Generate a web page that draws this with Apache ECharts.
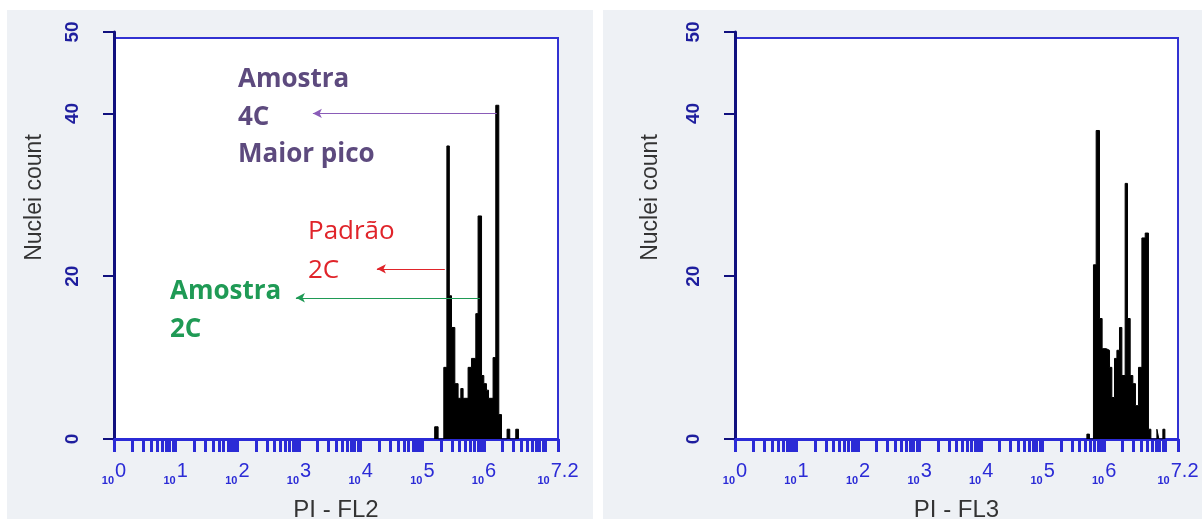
<!DOCTYPE html>
<html>
<head>
<meta charset="utf-8">
<script src="https://cdn.jsdelivr.net/npm/echarts@6/dist/echarts.min.js"></script>
<style>
html,body{margin:0;padding:0;background:#ffffff;}
#chart{width:1202px;height:519px;}
</style>
</head>
<body>
<div id="chart"></div>
<script>
// Histogram bins: edges in log10 fluorescence units, counts per bin
const leftEdges = [5.20, 5.256, 5.348, 5.398, 5.438, 5.473, 5.527, 5.580, 5.624, 5.661, 5.742, 5.797, 5.867, 5.904, 5.960, 5.997, 6.040, 6.073, 6.147, 6.191, 6.240, 6.284, 6.374, 6.418, 6.515, 6.559];
const leftCounts = [1.5, 0, 8.8, 36, 17.6, 13.7, 6.8, 5, 6.2, 5, 8.8, 9.9, 15.4, 27.4, 7.8, 6.8, 6, 5, 10, 41, 3, 0, 1.2, 0, 1.2];

const rightEdges = [5.719, 5.761, 5.826, 5.870, 5.924, 5.967, 6.033, 6.087, 6.125, 6.168, 6.207, 6.249, 6.288, 6.341, 6.379, 6.423, 6.466, 6.509, 6.558, 6.613, 6.667, 6.720, 6.759, 6.857, 6.889, 6.954, 6.987];
const rightCounts = [0.6, 0, 21.4, 37.9, 14.8, 11.1, 10.9, 8.8, 5.1, 9.9, 10.9, 13.7, 7.8, 31.4, 14.8, 7.8, 6.8, 4.1, 8.8, 24.7, 25.3, 1.2, 0, 1.2, 0, 1.2];

const xMajorTicks = [0, 1, 2, 3, 4, 5, 6, 7.2];
const yTicks = [0, 20, 40, 50];
const xTitles = ['PI - FL2', 'PI - FL3'];
const yTitle = 'Nuclei count';

// Annotation arrows (log10 x, count y)
const arrows = [
  {from: [6.207, 40.0], to: [3.225, 40.0], color: '#8a5cb8'},
  {from: [5.365, 20.9], to: [4.263, 20.9], color: '#e0242a'},
  {from: [5.932, 17.35], to: [2.950, 17.35], color: '#1f9a55'}
];
const notes = [
  {lines: ['Amostra', '4C', 'Maior pico'], color: '#5d4a7e', weight: 'bold'},
  {lines: ['Padrão', '2C'], color: '#e0242a', weight: 'normal'},
  {lines: ['Amostra', '2C'], color: '#1f9a55', weight: 'bold'}
];

// minor tick positions (log decades 1..9)
const minorTicks = [];
for (let k = 0; k <= 7; k++) {
  for (let m = 1; m <= 9; m++) {
    const v = k + Math.log10(m);
    if (v <= 7.2001) minorTicks.push(+v.toFixed(4));
  }
}
minorTicks.push(7.2);

function stepData(edges, counts) {
  const d = [[edges[0], 0]];
  for (let i = 0; i < counts.length; i++) d.push([edges[i], counts[i]]);
  d.push([edges[edges.length - 1], 0]);
  return d;
}

const chart = echarts.init(document.getElementById('chart'), null, {renderer: 'canvas'});

const grids = [
  {left: 114, top: 32, width: 444, height: 407, outerBoundsMode: 'none', containLabel: false},
  {left: 735, top: 32, width: 443, height: 407, outerBoundsMode: 'none', containLabel: false}
];
const yNameGap = [68, 73];

function xAxisFor(i) {
  return {
    type: 'value', gridIndex: i, min: 0, max: 7.2,
    name: xTitles[i], nameLocation: 'middle', nameGap: 59,
    nameTextStyle: {fontFamily: 'Liberation Sans', fontSize: 24, color: '#333333'},
    axisLine: {show: true, lineStyle: {color: '#2b2bd6', width: 3}},
    axisTick: {show: true, customValues: minorTicks, length: 13, lineStyle: {color: '#2b2bd6', width: 3}},
    axisLabel: {
      show: true, customValues: xMajorTicks, margin: 22,
      formatter: function (v) { return '{s|10}{e|' + (Math.abs(v - 7.2) < 1e-6 ? '7.2' : String(Math.round(v))) + '}'; },
      rich: {
        s: {fontFamily: 'Liberation Sans', fontSize: 11, lineHeight: 11, fontWeight: 'bold', color: '#2b2bd6', verticalAlign: 'top', padding: [14, 1, 0, 0]},
        e: {fontFamily: 'Liberation Sans', fontSize: 20, lineHeight: 20, color: '#2b2bd6', verticalAlign: 'top'}
      }
    },
    splitLine: {show: false}
  };
}
function yAxisFor(i) {
  return {
    type: 'value', gridIndex: i, min: 0, max: 50,
    name: yTitle, nameLocation: 'middle', nameGap: yNameGap[i], nameRotate: 90,
    nameTextStyle: {fontFamily: 'Liberation Sans', fontSize: 23, color: '#333333', padding: [0, 0, 0, 76]},
    axisLine: {show: true, lineStyle: {color: '#10107e', width: 3}},
    axisTick: {show: true, customValues: yTicks, length: 11, lineStyle: {color: '#10107e', width: 2}},
    axisLabel: {show: true, customValues: yTicks, rotate: 90, margin: 32,
      fontFamily: 'Liberation Sans', fontWeight: 'bold', fontSize: 19, color: '#1e1e9e'},
    splitLine: {show: false}
  };
}

const graphics = [
  {type: 'rect', z: -20, shape: {x: 7, y: 10, width: 586, height: 509}, style: {fill: '#eef1f5'}},
  {type: 'rect', z: -20, shape: {x: 603, y: 10, width: 599, height: 509}, style: {fill: '#eef1f5'}},
  {type: 'rect', z: -10, shape: {x: 114, y: 38, width: 444, height: 401}, style: {fill: '#ffffff', stroke: '#3232d2', lineWidth: 2}},
  {type: 'rect', z: -10, shape: {x: 735, y: 38, width: 443, height: 401}, style: {fill: '#ffffff', stroke: '#3232d2', lineWidth: 2}}
];
const notePos = [
  {x: 238, y: 80, step: 37.5},
  {x: 308, y: 232, step: 38.5},
  {x: 170, y: 292, step: 38}
];
notes.forEach(function (n, i) {
  n.lines.forEach(function (t, j) {
    graphics.push({type: 'text', z: 60, x: notePos[i].x, y: notePos[i].y + j * notePos[i].step,
      style: {text: t, fill: n.color, font: n.weight + ' 26px "Open Sans"', textVerticalAlign: 'middle', textAlign: 'left'}});
  });
});

chart.setOption({
  animation: false,
  backgroundColor: '#ffffff',
  grid: grids,
  xAxis: [xAxisFor(0), xAxisFor(1)],
  yAxis: [yAxisFor(0), yAxisFor(1)],
  graphic: graphics,
  series: [
    {
      type: 'line', xAxisIndex: 0, yAxisIndex: 0, step: 'end', symbol: 'none',
      data: stepData(leftEdges, leftCounts),
      lineStyle: {color: '#000000', width: 1}, areaStyle: {color: '#000000', opacity: 1},
      markLine: {
        silent: true, symbol: ['none', 'arrow'], symbolSize: [7, 9], label: {show: false},
        data: arrows.map(function (a) {
          return [{coord: a.from, lineStyle: {color: a.color, width: 1.2, type: 'solid'}, itemStyle: {color: a.color}}, {coord: a.to}];
        })
      }
    },
    {
      type: 'line', xAxisIndex: 1, yAxisIndex: 1, step: 'end', symbol: 'none',
      data: stepData(rightEdges, rightCounts),
      lineStyle: {color: '#000000', width: 1}, areaStyle: {color: '#000000', opacity: 1}
    }
  ]
});
</script>
</body>
</html>
